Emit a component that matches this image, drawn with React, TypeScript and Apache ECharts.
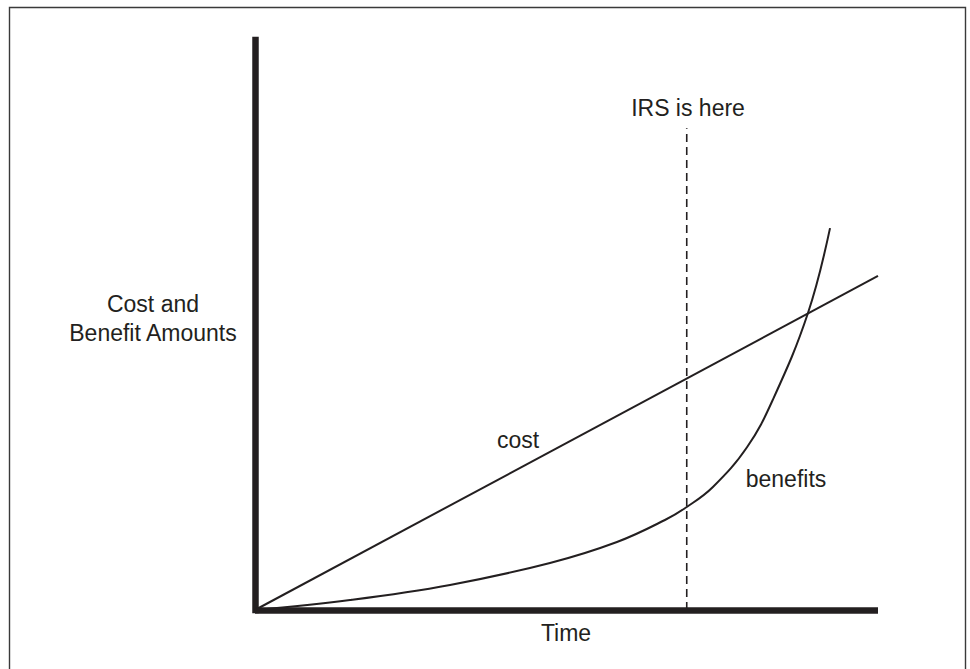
import React, { useEffect, useRef } from "react";
import * as echarts from "echarts";

// Conceptual chart: values in abstract units (x: time 0..100, y: amount 0..100)
const costX: number[] = [0, 100];
const costY: number[] = [0, 58.6];

const benefitX: number[] = [0, 15.25, 31.3, 47.35, 58.1, 65.8, 69.3, 73.5, 79.0, 83.1, 88.76, 92.3];
const benefitY: number[] = [0, 1.75, 4.39, 8.25, 11.93, 15.79, 18.07, 21.58, 28.6, 36.84, 52.1, 67.0];

const irsX = 69.3;
const irsY: number[] = [0, 84.5];

const labels = {
  yTitle: ["Cost and", "Benefit Amounts"],
  xTitle: "Time",
  cost: "cost",
  benefits: "benefits",
  irs: "IRS is here",
};

const INK = "#231f20";
const FONT = '"Liberation Sans", Arial, Helvetica, sans-serif';

export default function App() {
  const ref = useRef<HTMLDivElement>(null);
  useEffect(() => {
    if (!ref.current) return;
    const chart = echarts.init(ref.current, undefined, { renderer: "svg" });
    const txt = (text: string, x: number, y: number) => ({
      type: "text",
      x,
      y,
      style: {
        text,
        fill: INK,
        font: `23px ${FONT}`,
        textAlign: "center",
        textVerticalAlign: "middle",
      },
    });
    chart.setOption({
      animation: false,
      backgroundColor: "#ffffff",
      grid: { left: 255, right: 92, top: 40, bottom: 59 },
      xAxis: {
        type: "value",
        min: 0,
        max: 100,
        axisLine: { show: true, lineStyle: { color: INK, width: 6.5, cap: "butt" } },
        axisTick: { show: false },
        axisLabel: { show: false },
        splitLine: { show: false },
      },
      yAxis: {
        type: "value",
        min: 0,
        max: 100,
        axisLine: { show: true, lineStyle: { color: INK, width: 6.5, cap: "square" } },
        axisTick: { show: false },
        axisLabel: { show: false },
        splitLine: { show: false },
      },
      series: [
        {
          name: "cost",
          type: "line",
          data: costX.map((x, i) => [x, costY[i]]),
          symbol: "none",
          clip: false,
          lineStyle: { color: INK, width: 2 },
          z: 3,
        },
        {
          name: "benefits",
          type: "line",
          data: benefitX.map((x, i) => [x, benefitY[i]]),
          symbol: "none",
          smooth: 0.4,
          clip: false,
          lineStyle: { color: INK, width: 2 },
          z: 3,
        },
        {
          name: "IRS",
          type: "line",
          data: irsY.map((y) => [irsX, y]),
          symbol: "none",
          clip: false,
          lineStyle: { color: INK, width: 1.6, type: [8, 5] },
          z: 3,
        },
      ],
      graphic: [
        {
          type: "rect",
          shape: { x: 9.5, y: 7.5, width: 956, height: 700 },
          style: { fill: "none", stroke: "#3a3a3a", lineWidth: 1.4 },
          silent: true,
        },
        txt(labels.yTitle[0], 153, 304),
        txt(labels.yTitle[1], 153, 333),
        txt(labels.xTitle, 566, 633),
        txt(labels.cost, 518, 440),
        txt(labels.benefits, 786, 479),
        txt(labels.irs, 688, 108),
      ],
    });
    return () => chart.dispose();
  }, []);
  return (
    <div
      ref={ref}
      style={{ position: "fixed", left: 0, top: 0, width: 970, height: 669, background: "#fff" }}
    />
  );
}
